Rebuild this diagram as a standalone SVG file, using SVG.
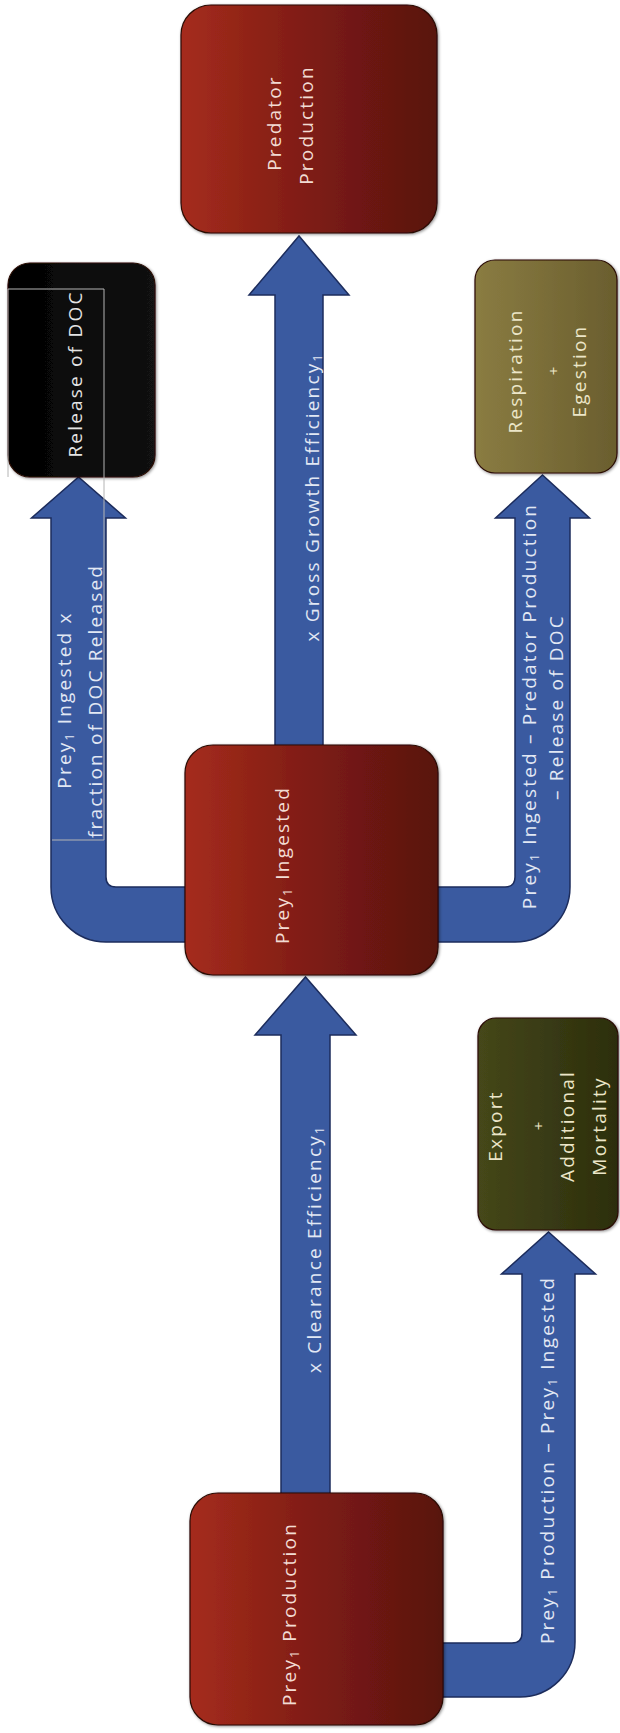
<svg xmlns="http://www.w3.org/2000/svg" width="620" height="1733" viewBox="0 0 620 1733">
<defs>
<linearGradient id="gRed" x1="0" y1="0" x2="1" y2="0">
<stop offset="0" stop-color="#a52c1c"/><stop offset="0.5" stop-color="#7e1c14"/><stop offset="1" stop-color="#58120f"/>
</linearGradient>
<linearGradient id="gBlack" x1="0" y1="0" x2="1" y2="0">
<stop offset="0" stop-color="#020202"/><stop offset="1" stop-color="#121212"/>
</linearGradient>
<linearGradient id="gOlive" x1="0" y1="0" x2="1" y2="0">
<stop offset="0" stop-color="#8a7c42"/><stop offset="1" stop-color="#6a5e2e"/>
</linearGradient>
<linearGradient id="gDark" x1="0" y1="0" x2="1" y2="0">
<stop offset="0" stop-color="#45471a"/><stop offset="1" stop-color="#2c2e0c"/>
</linearGradient>
<filter id="sh" x="-10%" y="-10%" width="120%" height="120%">
<feDropShadow dx="1" dy="1" stdDeviation="1.5" flood-color="#000" flood-opacity="0.45"/>
</filter>
</defs>
<style>
.box{stroke:#2a0a06;stroke-width:1.2;filter:url(#sh)}
.arrow{fill:#3a5aa0;stroke:#1c2c5c;stroke-width:1.5;stroke-linejoin:miter}
text{font-family:"Open Sans","Liberation Sans",sans-serif;font-size:19px;letter-spacing:2.2px;text-anchor:middle}
.tr{fill:#f2dcd4}
.tb{fill:#e4e4e4}
.to{fill:#ece6c8}
.ta{fill:#e2e8f4}
.plus{font-size:15px;letter-spacing:0}
.sub{font-size:12px}
.artifact{fill:none;stroke:#b4b4b4;stroke-width:1}
</style>
<rect width="620" height="1733" fill="#ffffff"/>
<g id="connectors">
<polygon class="arrow" points="275,760 275,295 249,295 299,236 349,295 323,295 323,760"/>
<path class="arrow" d="M51,518 L31.5,518 L78.5,477 L125.5,518 L106,518 L106,877 Q106,887 116,887 L505,887 Q515,887 515,877 L515,518 L495.5,518 L542.5,475 L589.5,518 L570,518 L570,887 A55,55 0 0 1 515,942 L106,942 A55,55 0 0 1 51,887 Z"/>
<polygon class="arrow" points="281,1505 281,1035 255,1035 305.5,977 356,1035 330,1035 330,1505"/>
<path class="arrow" d="M430,1643 L512,1643 Q522,1643 522,1633 L522,1274 L501.5,1274 L548.5,1232 L595.5,1274 L575,1274 L575,1642 A55,55 0 0 1 520,1697 L430,1697 Z"/>
<text class="ta" transform="translate(319,497) rotate(-90)">x Gross Growth Efficiency<tspan class="sub" dy="3">1</tspan></text>
<text class="ta" transform="translate(71,700) rotate(-90)">Prey<tspan class="sub" dy="3">1</tspan><tspan dy="-3"> Ingested x</tspan></text>
<text class="ta" transform="translate(102,701) rotate(-90)">fraction of DOC Released</text>
<text class="ta" transform="translate(536,706) rotate(-90)">Prey<tspan class="sub" dy="3">1</tspan><tspan dy="-3"> Ingested – Predator Production</tspan></text>
<text class="ta" transform="translate(563,707) rotate(-90)">– Release of DOC</text>
<text class="ta" transform="translate(321,1249) rotate(-90)">x Clearance Efficiency<tspan class="sub" dy="3">1</tspan></text>
<text class="ta" transform="translate(554,1460) rotate(-90)">Prey<tspan class="sub" dy="3">1</tspan><tspan dy="-3"> Production – Prey</tspan><tspan class="sub" dy="3">1</tspan><tspan dy="-3"> Ingested</tspan></text>
</g>
<g id="predator-production">
<rect class="box" x="181" y="5" width="256" height="228" rx="30" fill="url(#gRed)"/>
<text class="tr" transform="translate(281,123) rotate(-90)">Predator</text>
<text class="tr" transform="translate(313,125) rotate(-90)">Production</text>
</g>
<g id="release-of-doc">
<rect class="box" x="8" y="263" width="147" height="214" rx="22" fill="url(#gBlack)"/>
<text class="tb" transform="translate(82,374) rotate(-90)">Release of DOC</text>
</g>
<g id="respiration-egestion">
<rect class="box" x="475" y="260" width="142" height="213" rx="20" fill="url(#gOlive)"/>
<text class="to" transform="translate(522,371) rotate(-90)">Respiration</text>
<text class="to plus" transform="translate(559,371) rotate(-90)">+</text>
<text class="to" transform="translate(586,371) rotate(-90)">Egestion</text>
</g>
<g id="prey-ingested">
<rect class="box" x="185" y="745" width="253" height="230" rx="28" fill="url(#gRed)"/>
<text class="tr" transform="translate(289,865) rotate(-90)">Prey<tspan class="sub" dy="3">1</tspan><tspan dy="-3"> Ingested</tspan></text>
</g>
<g id="export-mortality">
<rect class="box" x="478" y="1018" width="140" height="212" rx="18" fill="url(#gDark)"/>
<text class="to" transform="translate(502,1126) rotate(-90)">Export</text>
<text class="to plus" transform="translate(544,1126) rotate(-90)">+</text>
<text class="to" transform="translate(574,1126) rotate(-90)">Additional</text>
<text class="to" transform="translate(606,1126) rotate(-90)">Mortality</text>
</g>
<g id="prey-production">
<rect class="box" x="190" y="1493" width="253" height="232" rx="28" fill="url(#gRed)"/>
<text class="tr" transform="translate(296,1614) rotate(-90)">Prey<tspan class="sub" dy="3">1</tspan><tspan dy="-3"> Production</tspan></text>
</g>
<path class="artifact" d="M8,477 V289 H104 V840 H52"/>
</svg>
